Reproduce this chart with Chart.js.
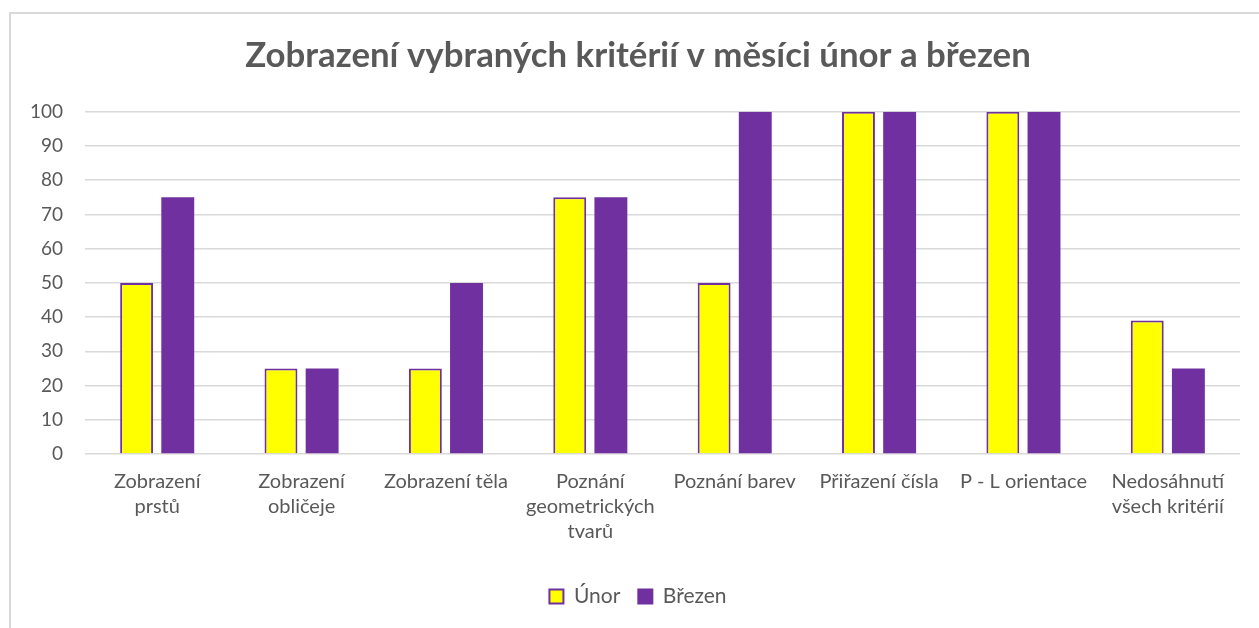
<!DOCTYPE html>
<html lang="cs">
<head>
    <meta charset="UTF-8">
    <title>Zobrazení vybraných kritérií</title>
    <script src="https://cdn.jsdelivr.net/npm/chart.js"></script>
    <style>
        body {
            margin: 0;
            background: #fff;
            overflow: hidden;
        }
        /* ramecek grafu jako v Excelu */
        .frame {
            position: absolute;
            left: 9px;
            top: 12px;
            width: 1300px;
            height: 700px;
            border: 2px solid #d9d9d9;
        }
        .wrap {
            position: absolute;
            left: 0;
            top: 0;
            width: 1259px;
            height: 628px;
        }
    </style>
</head>
<body>

<div class="frame"></div>
<div class="wrap">
    <canvas id="graf"></canvas>
</div>

<script>
    // data z grafu
    const kategorie = [
        ['Zobrazení', 'prstů'],
        ['Zobrazení', 'obličeje'],
        'Zobrazení těla',
        ['Poznání', 'geometrických', 'tvarů'],
        'Poznání barev',
        'Přiřazení čísla',
        'P - L orientace',
        ['Nedosáhnutí', 'všech kritérií']
    ];
    const unor = [50, 25, 25, 75, 50, 100, 100, 39];
    const brezen = [75, 25, 50, 75, 100, 100, 100, 25];

    const sedaText = '#595959';
    const mrizka = '#d9d9d9';
    const fialova = '#7030A0';
    const zluta = '#FFFF00';

    Chart.defaults.font.family = 'Lato, "Open Sans", sans-serif';
    Chart.defaults.color = sedaText;

    // nadpis a legenda jsou v Excelu vystredene na ramecek, ne na platno
    const posunStredu = {
        id: 'posunStredu',
        afterLayout(chart) {
            [chart.titleBlock, chart.legend].forEach(function (box) {
                if (box) {
                    box.left += 18;
                    box.right += 18;
                }
            });
        }
    };

    const ctx = document.getElementById('graf').getContext('2d');
    new Chart(ctx, {
        type: 'bar',
        data: {
            labels: kategorie,
            datasets: [{
                label: 'Únor',
                data: unor,
                backgroundColor: zluta,
                borderColor: fialova,
                borderWidth: 2,
                categoryPercentage: 0.57,
                barPercentage: 0.8
            }, {
                label: 'Březen',
                data: brezen,
                backgroundColor: fialova,
                borderColor: fialova,
                borderWidth: 0,
                categoryPercentage: 0.57,
                barPercentage: 0.8
            }]
        },
        plugins: [posunStredu],
        options: {
            responsive: true,
            maintainAspectRatio: false,
            animation: false,
            layout: {
                padding: { left: 0, right: 19, top: 0, bottom: 11 }
            },
            plugins: {
                title: {
                    display: true,
                    text: 'Zobrazení vybraných kritérií v měsíci únor a březen',
                    color: sedaText,
                    font: { size: 34.8, weight: 'bold' },
                    padding: { top: 35, bottom: 35 }
                },
                legend: {
                    position: 'bottom',
                    labels: {
                        color: sedaText,
                        font: { size: 21 },
                        boxWidth: 14,
                        boxHeight: 14,
                        padding: 18,
                        generateLabels: function (chart) {
                            return chart.data.datasets.map(function (ds, i) {
                                return {
                                    text: ds.label,
                                    fillStyle: ds.backgroundColor,
                                    strokeStyle: fialova,
                                    lineWidth: 2,
                                    fontColor: sedaText,
                                    datasetIndex: i
                                };
                            });
                        }
                    }
                },
                tooltip: { enabled: false }
            },
            scales: {
                x: {
                    afterFit: function (scale) { scale.height = 114; },
                    grid: { display: false },
                    border: { display: false },
                    ticks: {
                        color: sedaText,
                        font: { size: 20, lineHeight: 1.25 },
                        maxRotation: 0,
                        autoSkip: false,
                        padding: 7
                    }
                },
                y: {
                    min: 0,
                    max: 100,
                    afterFit: function (scale) { scale.width = 85; },
                    grid: {
                        color: mrizka,
                        lineWidth: 1.5,
                        drawTicks: false
                    },
                    border: { display: false },
                    ticks: {
                        stepSize: 10,
                        color: sedaText,
                        font: { size: 19 },
                        padding: 22
                    }
                }
            }
        }
    });
</script>

</body>
</html>
